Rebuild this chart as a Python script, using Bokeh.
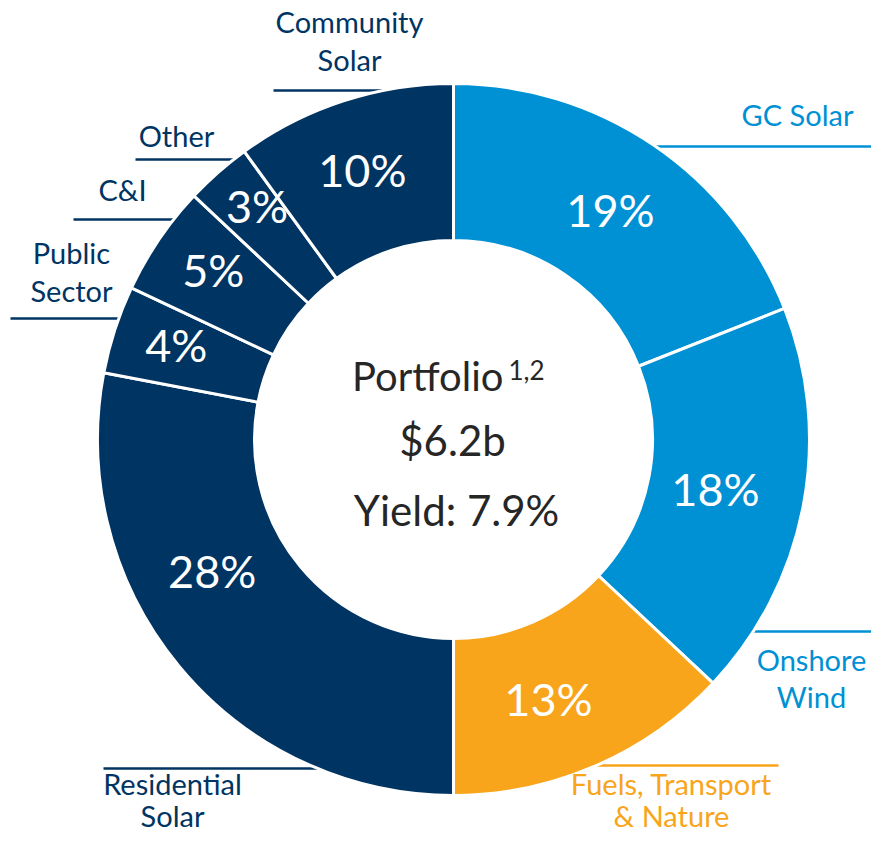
import math
from bokeh.plotting import figure
from bokeh.models import Range1d, ColumnDataSource
from bokeh.embed import file_html
from bokeh.resources import INLINE
from bokeh.core.properties import value

# ---------------- data ----------------
categories = ["GC Solar", "Onshore Wind", "Fuels, Transport & Nature", "Residential Solar",
              "Public Sector", "C&I", "Other", "Community Solar"]
shares = [19, 18, 13, 28, 4, 5, 3, 10]
label_lines = [["GC Solar"], ["Onshore", "Wind"], ["Fuels, Transport", "& Nature"],
               ["Residential", "Solar"], ["Public", "Sector"], ["C&I"], ["Other"],
               ["Community", "Solar"]]
center_title = "Portfolio"
center_note = "1,2"
center_value = "$6.2b"
center_yield = "Yield: 7.9%"

# ---------------- styles / layout ----------------
BLUE = "#0090D4"
NAVY = "#003462"
ORANGE = "#F8A51B"
TEXT = "#262626"
FONT = "Lato"
slice_colors = [BLUE, BLUE, ORANGE, NAVY, NAVY, NAVY, NAVY, NAVY]

H = 850                   # picture height (px)
CX, CY = 453, 439         # donut center (picture px)
R_OUT, R_IN = 356, 199
R_LABEL = 282
# small nudges of the percentage labels off the ring's mid radius (px)
pct_nudge_x = [-1.5, -15, -17, -24, -9, -7, -10, -4]
pct_nudge_y = [4, -3, 1, -48, -7, -11, -21.5, -1]

# category-label layout (picture px, vertical middles of text lines)
leader_y = [146, 631, 765, 768, 318, 219, 159, 90]
leader_end = [890, 890, 778, 103, 10, 73, 135, 273]
label_x = [797, 811, 671, 172, 71, 122, 176, 349]
label_mid = [[114], [659, 696], [783, 815], [783, 815], [252, 290], [189], [135], [21, 59]]


def Y(py):
    return H - py


p = figure(width=871, height=834, x_range=Range1d(0, 871), y_range=Range1d(16, 850),
           output_backend="svg", toolbar_location=None, x_axis_type=None, y_axis_type=None,
           min_border=0, outline_line_color=None, background_fill_color="white",
           border_fill_color="white")
p.xgrid.visible = False
p.ygrid.visible = False

# wedge angles
total = float(sum(shares))
starts, ends, mids = [], [], []
acc = 0.0
for s in shares:
    a0 = acc / total
    acc += s
    a1 = acc / total
    starts.append(math.pi / 2 - 2 * math.pi * a0)
    ends.append(math.pi / 2 - 2 * math.pi * a1)
    mids.append(math.pi / 2 - 2 * math.pi * (a0 + a1) / 2)

# leader lines (drawn first, under the ring)
x0s, x1s, ys, lcols = [], [], [], []
for i, cat in enumerate(categories):
    dy = leader_y[i] - CY
    dx = math.sqrt(max(R_OUT ** 2 - dy ** 2, 0))
    x0 = CX + dx - 6 if leader_end[i] > CX else CX - dx + 6
    x0s.append(x0)
    x1s.append(leader_end[i])
    ys.append(Y(leader_y[i]))
    lcols.append(slice_colors[i])
p.segment(x0=x0s, y0=ys, x1=x1s, y1=ys, line_color=lcols, line_width=2.5)

# ring
src = ColumnDataSource(dict(cat=categories, share=shares, start=starts, end=ends,
                            color=slice_colors))
p.annular_wedge(x=CX, y=Y(CY), inner_radius=R_IN, outer_radius=R_OUT,
                start_angle="start", end_angle="end", direction="clock",
                fill_color="color", line_color="white", line_width=3, source=src)

# percentage labels
px = [CX + R_LABEL * math.cos(m) + nx for m, nx in zip(mids, pct_nudge_x)]
py = [Y(CY) + R_LABEL * math.sin(m) - ny for m, ny in zip(mids, pct_nudge_y)]
ptxt = ["%d%%" % s for s in shares]
p.text(x=px, y=py, text=ptxt, text_color="white", text_font=value(FONT),
       text_font_size="45px", text_align="center", text_baseline="middle")

# category labels
tx, ty, tt, tc = [], [], [], []
for i, lines in enumerate(label_lines):
    for j, ln in enumerate(lines):
        tx.append(label_x[i])
        ty.append(Y(label_mid[i][j]))
        tt.append(ln)
        tc.append(slice_colors[i])
p.text(x=tx, y=ty, text=tt, text_color=tc, text_font=value(FONT),
       text_font_size="29px", text_align="center", text_baseline="middle")

# center text
p.text(x=[503], y=[Y(375)], text=[center_title], text_color=TEXT, text_font=value(FONT),
       text_font_size="40px", text_align="right", text_baseline="middle")
p.text(x=[508], y=[Y(369)], text=[center_note], text_color=TEXT, text_font=value(FONT),
       text_font_size="26px", text_align="left", text_baseline="middle")
p.text(x=[452, 456], y=[Y(439), Y(509)], text=[center_value, center_yield], text_color=TEXT,
       text_font=value(FONT), text_font_size="42px", text_align="center",
       text_baseline="middle")

open("out.html", "w").write(file_html(p, INLINE))
